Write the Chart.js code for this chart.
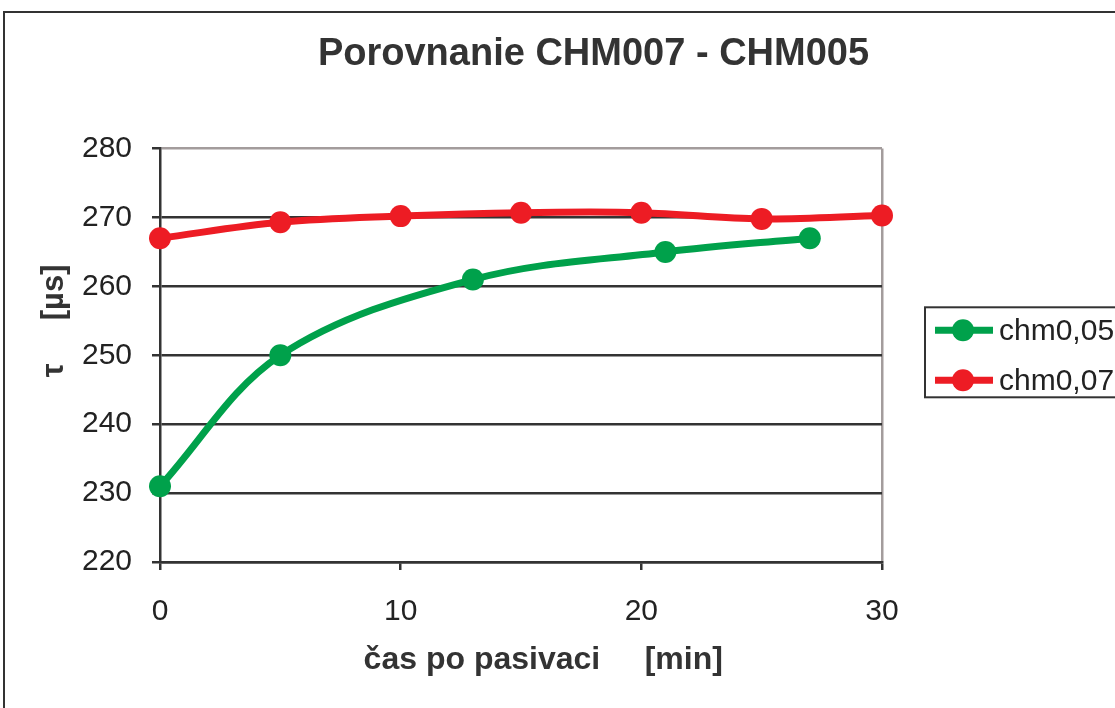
<!DOCTYPE html>
<html>
<head>
<meta charset="utf-8">
<title>Porovnanie CHM007 - CHM005</title>
<script src="https://cdn.jsdelivr.net/npm/chart.js@4.4.1/dist/chart.umd.min.js"></script>
<style>
  html, body { margin: 0; padding: 0; background: #fff; overflow: hidden; width: 1115px; height: 708px; }
  #frame { position: absolute; left: 3px; top: 11px; border: 2px solid #333; width: 1177px; height: 760px; }
  #chart { display: block; }
</style>
</head>
<body>
<div id="frame"><canvas id="chart" width="1177" height="760"></canvas></div>
<script>
// data
var seriesNames = ['chm0,05', 'chm0,07'];
var timeGreen = [0, 5, 13, 21, 27];
var tauGreen = [231, 250, 261, 265, 267];
var timeRed = [0, 5, 10, 15, 20, 25, 30];
var tauRed = [267, 269.3, 270.2, 270.7, 270.7, 269.8, 270.3];
var xTicks = [0, 10, 20, 30];
var yTicks = [220, 230, 240, 250, 260, 270, 280];

var GREEN = '#00A14B';
var RED = '#ED1C24';
var DARK = '#333333';
var FRAME_GRAY = '#A39C9C';
var FONT = "'Liberation Sans', Arial, sans-serif";

Chart.defaults.font.family = FONT;
Chart.defaults.color = '#222';

function points(xs, ys) {
  return xs.map(function (x, i) { return { x: x, y: ys[i] }; });
}

// legend drawn as its own layout box on the right
var legendBox = {
  position: 'right',
  weight: 10,
  fullSize: false,
  options: {},
  isHorizontal: function () { return false; },
  update: function (maxW, maxH) {
    this.width = 300;
    this.height = maxH;
  },
  draw: function () {
    var chart = this.chart;
    var ctx = chart.ctx;
    var area = chart.chartArea;
    var mid = (area.top + area.bottom) / 2;
    var x0 = this.left + 43;
    var top = mid - 48;
    ctx.save();
    ctx.lineWidth = 2;
    ctx.strokeStyle = DARK;
    ctx.strokeRect(x0, top, this.right - x0 + 20, 90);
    chart.data.datasets.forEach(function (ds, i) {
      var y = top + 23 + i * 50;
      ctx.strokeStyle = ds.borderColor;
      ctx.lineWidth = 7;
      ctx.beginPath();
      ctx.moveTo(x0 + 10, y);
      ctx.lineTo(x0 + 68, y);
      ctx.stroke();
      ctx.fillStyle = ds.borderColor;
      ctx.beginPath();
      ctx.arc(x0 + 38, y, 11, 0, Math.PI * 2);
      ctx.fill();
      ctx.fillStyle = '#222';
      ctx.font = '30px ' + FONT;
      ctx.textBaseline = 'middle';
      ctx.textAlign = 'left';
      ctx.fillText(ds.label, x0 + 74, y + 1);
    });
    ctx.restore();
  }
};

var legendPlugin = {
  id: 'boxLegend',
  beforeInit: function (chart) {
    legendBox.chart = chart;
    Chart.layouts.addBox(chart, legendBox);
  }
};

var ctx = document.getElementById('chart').getContext('2d');
var myChart = new Chart(ctx, {
  type: 'line',
  data: {
    datasets: [{
      label: seriesNames[0],
      data: points(timeGreen, tauGreen),
      borderColor: GREEN,
      backgroundColor: GREEN,
      pointBackgroundColor: GREEN,
      pointBorderWidth: 0,
      pointRadius: 11,
      borderWidth: 7,
      tension: 0.35,
      clip: false
    }, {
      label: seriesNames[1],
      data: points(timeRed, tauRed),
      borderColor: RED,
      backgroundColor: RED,
      pointBackgroundColor: RED,
      pointBorderWidth: 0,
      pointRadius: 11,
      borderWidth: 7,
      tension: 0.35,
      clip: false
    }]
  },
  options: {
    responsive: false,
    animation: false,
    events: [],
    layout: { padding: 0 },
    plugins: {
      legend: { display: false },
      tooltip: { enabled: false },
      title: {
        display: true,
        text: 'Porovnanie CHM007 - CHM005',
        color: DARK,
        font: { size: 38, weight: 'bold' },
        padding: { top: 19, bottom: 71 }
      }
    },
    scales: {
      x: {
        type: 'linear',
        min: xTicks[0],
        max: xTicks[xTicks.length - 1],
        afterBuildTicks: function (scale) {
          scale.ticks = xTicks.map(function (v) { return { value: v }; });
        },
        afterFit: function (scale) { scale.height = 211; },
        ticks: { font: { size: 30 }, padding: 24, maxRotation: 0 },
        grid: {
          color: function (c) { return c.tick && c.tick.value === 30 ? FRAME_GRAY : 'rgba(0,0,0,0)'; },
          tickColor: DARK,
          tickLength: 8,
          lineWidth: 2.5
        },
        border: { color: DARK, width: 2.5 },
        title: {
          display: true,
          text: '     čas po pasivaci     [min]',
          color: DARK,
          font: { size: 32, weight: 'bold' },
          padding: { top: 0, bottom: 94 }
        }
      },
      y: {
        min: yTicks[0],
        max: yTicks[yTicks.length - 1],
        afterBuildTicks: function (scale) {
          scale.ticks = yTicks.map(function (v) { return { value: v }; });
        },
        afterFit: function (scale) { scale.width = 155; },
        ticks: { font: { size: 30 }, padding: 20 },
        grid: {
          color: function (c) { return c.tick && c.tick.value === 280 ? FRAME_GRAY : DARK; },
          tickColor: DARK,
          tickLength: 8,
          lineWidth: 2.5
        },
        border: { color: DARK, width: 2.5 },
        title: {
          display: true,
          text: '        τ     [µs]',
          color: DARK,
          font: { size: 31, weight: 'bold' },
          padding: { top: 31, bottom: 0 }
        }
      }
    }
  },
  plugins: [legendPlugin]
});
</script>
</body>
</html>
